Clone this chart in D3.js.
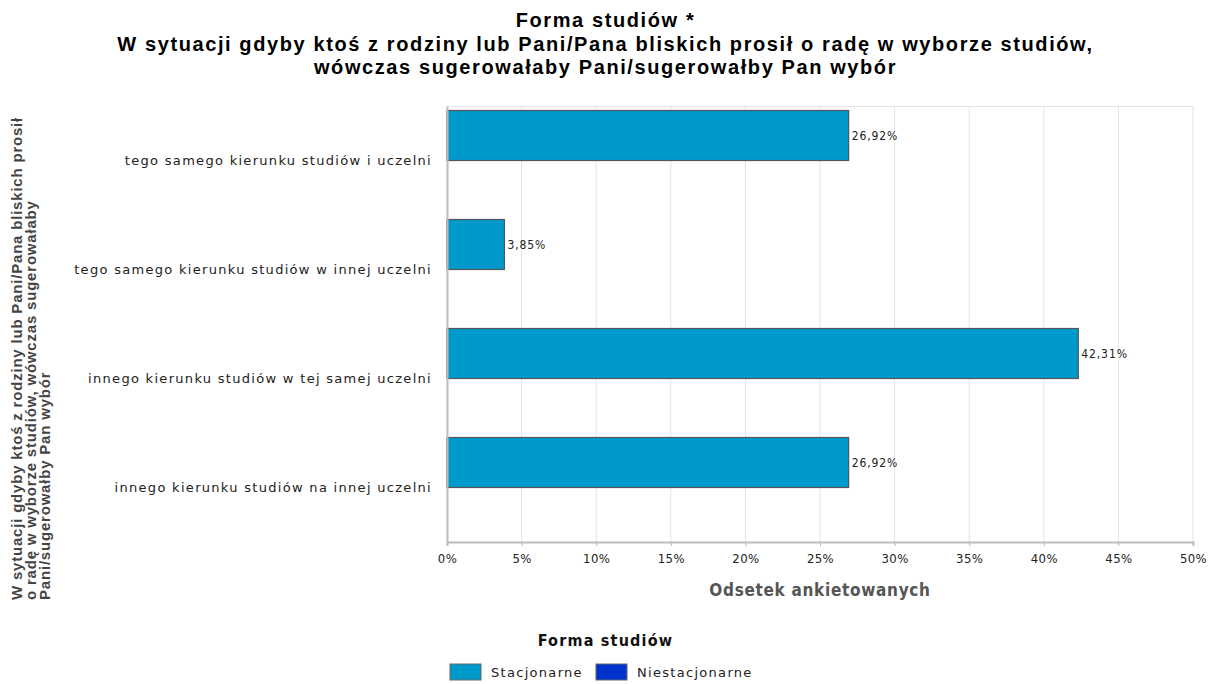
<!DOCTYPE html>
<html>
<head>
<meta charset="utf-8">
<title>Forma studiów</title>
<script src="https://d3js.org/d3.v7.min.js"></script>
<style>
  body { margin: 0; background: #fff; }
</style>
</head>
<body>
<svg width="1211" height="684"></svg>
<script>
    // dane
    const categories = [
        "tego samego kierunku studiów i uczelni",
        "tego samego kierunku studiów w innej uczelni",
        "innego kierunku studiów w tej samej uczelni",
        "innego kierunku studiów na innej uczelni"
    ];
    const seriesNames = ["Stacjonarne", "Niestacjonarne"];
    const stacjonarne = [26.92, 3.85, 42.31, 26.92];
    const niestacjonarne = [0, 0, 0, 0];
    const xTicks = [0, 5, 10, 15, 20, 25, 30, 35, 40, 45, 50];
    const titleLines = [
        "Forma studiów *",
        "W sytuacji gdyby ktoś z rodziny lub Pani/Pana bliskich prosił o radę w wyborze studiów,",
        "wówczas sugerowałaby Pani/sugerowałby Pan wybór"
    ];
    const yTitleLines = [
        "W sytuacji gdyby ktoś z rodziny lub Pani/Pana bliskich prosił",
        "o radę w wyborze studiów, wówczas sugerowałaby",
        "Pani/sugerowałby Pan wybór"
    ];
    const colors = ["#0099cc", "#0033cc"];

    let svg = d3.select("svg"),
        width = +svg.attr("width");

    const plot = { left: 447, right: 1193, top: 106, bottom: 542 };
    const condensed = "'DejaVu Sans Condensed', 'DejaVu Sans', sans-serif";
    const arial = "'Liberation Sans', Arial, sans-serif";

    let x = d3.scaleLinear().domain([0, 50]).range([plot.left, plot.right]);
    let y0 = d3.scaleBand().domain(categories).range([plot.top, plot.bottom]);
    let y1 = d3.scaleBand().domain(seriesNames).range([0, y0.bandwidth()]).paddingOuter(0.09);

    // tytuł
    svg.append("g").selectAll("text").data(titleLines).join("text")
        .attr("x", width / 2)
        .attr("y", (d, i) => 27 + i * 23.5)
        .attr("text-anchor", "middle")
        .attr("font-family", arial)
        .attr("font-weight", "bold")
        .attr("font-size", 20)
        .attr("letter-spacing", 1.6)
        .attr("fill", "#000")
        .text(d => d);

    // siatka
    svg.append("g").selectAll("line").data(xTicks.slice(1)).join("line")
        .attr("x1", d => x(d)).attr("x2", d => x(d))
        .attr("y1", plot.top).attr("y2", plot.bottom)
        .attr("stroke", "#e3e3e3");
    svg.append("line")
        .attr("x1", plot.left).attr("x2", plot.right)
        .attr("y1", plot.top + 0.5).attr("y2", plot.top + 0.5)
        .attr("stroke", "#e3e3e3");

    // słupki
    const rows = categories.map((c, i) => ({ cat: c, values: [stacjonarne[i], niestacjonarne[i]] }));
    let groups = svg.append("g").selectAll("g").data(rows).join("g")
        .attr("transform", d => `translate(0,${y0(d.cat)})`);

    groups.selectAll("rect")
        .data(d => d.values.map((v, j) => ({ s: seriesNames[j], v: v, j: j })).filter(e => e.v > 0))
        .join("rect")
        .attr("x", x(0))
        .attr("y", d => y1(d.s))
        .attr("width", d => x(d.v) - x(0))
        .attr("height", y1.bandwidth())
        .attr("fill", d => colors[d.j])
        .attr("stroke", "#555")
        .attr("stroke-width", 1.2);

    groups.selectAll("text.val")
        .data(d => d.values.map((v, j) => ({ s: seriesNames[j], v: v })).filter(e => e.v > 0))
        .join("text")
        .attr("class", "val")
        .attr("x", d => x(d.v) + 3)
        .attr("y", d => y1(d.s) + y1.bandwidth() / 2 + 4)
        .attr("font-family", condensed)
        .attr("font-size", 12)
        .attr("letter-spacing", 0.9)
        .attr("fill", "#222")
        .text(d => d.v.toFixed(2).replace(".", ",") + "%");

    // osie
    let xAxis = d3.axisBottom(x).tickValues(xTicks).tickFormat(d => d + "%").tickSize(4).tickPadding(8);
    let gx = svg.append("g").attr("transform", `translate(0,${plot.bottom})`).call(xAxis);
    gx.select(".domain").attr("stroke", "#bbb").attr("stroke-width", 2);
    gx.selectAll(".tick line").attr("stroke", "#bbb");
    gx.selectAll(".tick text")
        .attr("font-family", condensed)
        .attr("font-size", 13)
        .attr("letter-spacing", 0.4)
        .attr("fill", "#222");

    let yAxis = d3.axisLeft(y0).tickSize(0).tickPadding(15);
    let gy = svg.append("g").attr("transform", `translate(${plot.left},0)`).call(yAxis);
    gy.select(".domain").attr("stroke", "#bbb").attr("stroke-width", 2);
    gy.selectAll(".tick text")
        .attr("font-family", "'DejaVu Sans', Verdana, sans-serif")
        .attr("font-size", 13)
        .attr("letter-spacing", 1.3)
        .attr("fill", "#222");

    // tytuły osi
    svg.append("text")
        .attr("x", (plot.left + plot.right) / 2)
        .attr("y", 596)
        .attr("text-anchor", "middle")
        .attr("font-family", condensed)
        .attr("font-weight", "bold")
        .attr("font-size", 17)
        .attr("letter-spacing", 0.7)
        .attr("fill", "#555")
        .text("Odsetek ankietowanych");

    svg.append("g").attr("transform", "translate(0,600) rotate(-90)")
        .selectAll("text").data(yTitleLines).join("text")
        .attr("x", 0)
        .attr("y", (d, i) => 22 + i * 14)
        .attr("font-family", arial)
        .attr("font-weight", "bold")
        .attr("font-size", 15)
        .attr("letter-spacing", 0.8)
        .attr("fill", "#444")
        .text(d => d);

    // legenda
    svg.append("text")
        .attr("x", width / 2)
        .attr("y", 646)
        .attr("text-anchor", "middle")
        .attr("font-family", condensed)
        .attr("font-weight", "bold")
        .attr("font-size", 16)
        .attr("letter-spacing", 1.2)
        .attr("fill", "#111")
        .text("Forma studiów");

    const legendX = [450, 596];
    let leg = svg.append("g").selectAll("g").data(seriesNames).join("g")
        .attr("transform", (d, i) => `translate(${legendX[i]},664)`);
    leg.append("rect")
        .attr("width", 31).attr("height", 16)
        .attr("fill", (d, i) => colors[i])
        .attr("stroke", "#666");
    leg.append("text")
        .attr("x", 41).attr("y", 13)
        .attr("font-family", "'DejaVu Sans', Verdana, sans-serif")
        .attr("font-size", 13)
        .attr("letter-spacing", 1.3)
        .attr("fill", "#222")
        .text(d => d);
</script>
</body>
</html>
